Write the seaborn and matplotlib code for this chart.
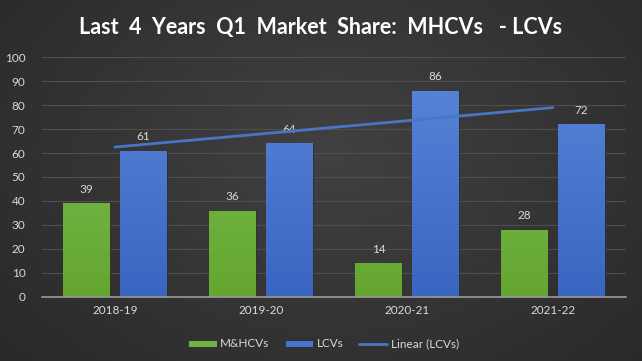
import numpy as np
import pandas as pd
import matplotlib
matplotlib.use("Agg")
import matplotlib.pyplot as plt
import matplotlib.colors as mcolors
import seaborn as sns

years = ["2018-19", "2019-20", "2020-21", "2021-22"]
mhcv = [39, 36, 14, 28]
lcv = [61, 64, 86, 72]
series_names = ["M&HCVs", "LCVs"]
title = "Last  4  Years  Q1  Market  Share:  MHCVs   - LCVs"

df = pd.DataFrame({
    "Year": years * 2,
    "Value": mhcv + lcv,
    "Series": [series_names[0]] * len(years) + [series_names[1]] * len(years),
})

sns.set_theme(style="dark")
plt.rcParams["font.family"] = ["Lato", "DejaVu Sans"]

fig = plt.figure(figsize=(6.42, 3.61), dpi=100)

# radial gradient background
bg = fig.add_axes([0, 0, 1, 1], zorder=-10)
yy, xx = np.mgrid[0:361, 0:642]
r = np.sqrt(((xx - 330) / 420.0) ** 2 + ((yy - 150) / 300.0) ** 2)
val = np.clip(0.255 - 0.09 * r, 0.14, 0.26)
bg.imshow(np.dstack([val, val, val]), aspect="auto", extent=[0, 1, 0, 1])
bg.set_axis_off()

ax = fig.add_axes([42 / 642, 64.3 / 361, (626 - 42) / 642, 239.4 / 361])
ax.set_facecolor("none")

palette = {series_names[0]: "#70B243", series_names[1]: "#4673CC"}
sns.barplot(data=df, x="Year", y="Value", hue="Series", order=years,
            hue_order=series_names, palette=palette, width=0.78, gap=0.19,
            saturation=1, edgecolor="#2a2a2a", linewidth=0.6, ax=ax, legend=True)

# vertical gradient fill for bars
grads = [("#7EC255", "#64A630"), ("#5A86D9", "#3A66C2")]
for cont, (ctop, cbot) in zip(ax.containers, grads):
    cmap = mcolors.LinearSegmentedColormap.from_list("g", [cbot, ctop])
    for p in cont.patches:
        x0, y0 = p.get_x(), p.get_y()
        w, h = p.get_width(), p.get_height()
        im = ax.imshow(np.linspace(0, 1, 64).reshape(-1, 1), cmap=cmap, origin="lower",
                       extent=[x0, x0 + w, y0, y0 + 100], aspect="auto", zorder=p.get_zorder())
        im.set_clip_path(p)

# data labels
for cont in ax.containers:
    ax.bar_label(cont, labels=[f"{v:.0f}" for v in cont.datavalues], padding=6,
                 color="#d9d9d9", fontsize=8.5)

# linear trendline on LCVs
xs = np.arange(len(years))
coef = np.polyfit(xs, lcv, 1)
ax.plot([xs[0], xs[-1]], np.polyval(coef, [xs[0], xs[-1]]), color="#4A74C4",
        lw=2, label="Linear (LCVs)", zorder=5)

ax.set_ylim(0, 100)
ax.set_xlim(-0.5, len(years) - 0.5)
ax.set_yticks(np.arange(0, 101, 10))
ax.grid(axis="y", color="#4f4f4f", lw=0.8)
ax.grid(axis="x", visible=False)
ax.set_axisbelow(True)
for s in ["top", "right", "left"]:
    ax.spines[s].set_visible(False)
ax.spines["bottom"].set_color("#9a9a9a")
ax.spines["bottom"].set_linewidth(1.2)
ax.tick_params(axis="y", colors="#d9d9d9", labelsize=8.5, length=0, pad=12)
ax.tick_params(axis="x", colors="#d9d9d9", labelsize=8.5, length=0, pad=6)
ax.set_xlabel("")
ax.set_ylabel("")

handles, labels = ax.get_legend_handles_labels()
leg = ax.legend(handles, labels, loc="upper center", bbox_to_anchor=(0.482, -0.13),
                ncol=3, frameon=False, fontsize=8.5, labelcolor="#d9d9d9",
                handlelength=2.4, handleheight=0.5, columnspacing=1.3, handletextpad=0.3)

fig.text(0.5, 0.925, title, ha="center", va="center", color="white",
         fontsize=15.5, fontweight="bold")

fig.savefig("out.png", dpi=100)
